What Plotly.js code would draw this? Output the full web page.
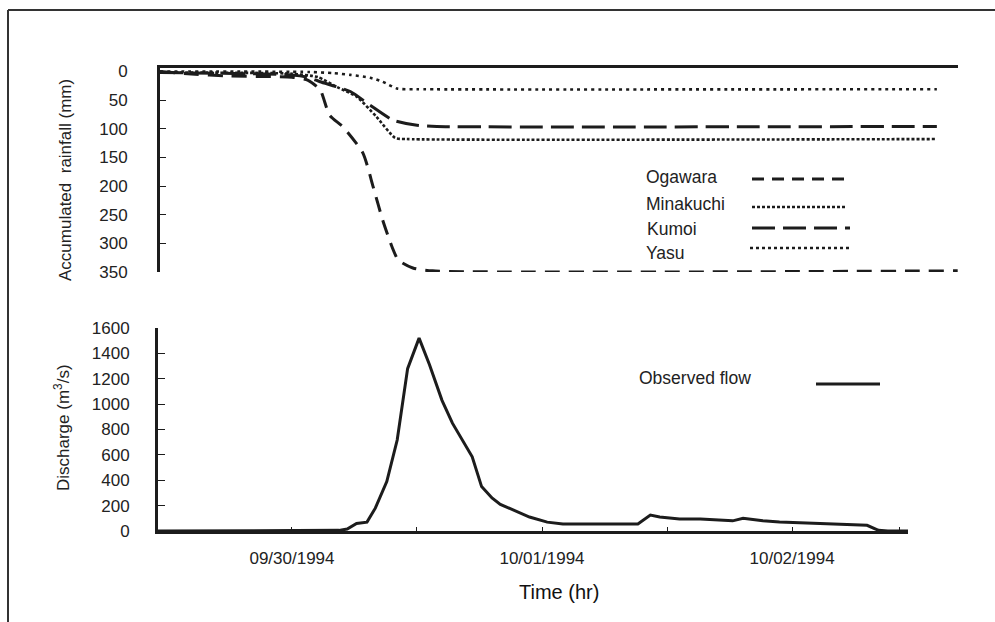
<!DOCTYPE html>
<html>
<head>
<meta charset="utf-8">
<script src="https://cdn.plot.ly/plotly-3.0.1.min.js"></script>
<style>html,body{margin:0;padding:0;background:#fff;}#chart{width:995px;height:622px;}</style>
</head>
<body>
<div id="chart"></div>
<script>
// Time in hours relative to 09/30/1994 00:00
var flowHours = [-12.86, 3.0, 4.5, 5.3, 6.2, 7.2, 8.0, 9.1, 10.1, 11.1, 12.2, 13.2, 14.4, 15.4, 17.3, 18.2, 19.2, 20.0, 21.2, 22.8, 24.5, 26.0, 33.2, 34.4, 35.3, 37.2, 39.2, 40.4, 42.3, 43.3, 45.2, 46.8, 50.0, 51.6, 53.3, 55.2, 56.3, 57.2, 59.13];
var observedFlow = [0, 0, 5, 15, 60, 70, 180, 390, 717, 1280, 1520, 1310, 1030, 850, 585, 350, 260, 210, 165, 110, 70, 55, 55, 125, 110, 95, 95, 87, 80, 100, 80, 70, 60, 60, 50, 45, 5, 0, 0];

var ogawaraHours = [-12.67, -10, -6, 0, 1.5, 2.7, 3.6, 4.9, 6.8, 7.8, 8.7, 9.6, 10.2, 11.6, 13.5, 63.9];
var ogawara = [0, 4, 8, 10, 15, 32, 76, 97, 142, 202, 259, 306, 329, 343, 348, 348];

var minakuchiHours = [-12.67, 0, 2.5, 4.3, 6.2, 8.1, 9.9, 11.0, 61.9];
var minakuchi = [2, 4, 10, 27, 44, 79, 116, 118, 118];

var kumoiHours = [-12.67, 0, 1.5, 2.7, 5.6, 7.5, 9.7, 12.0, 13.9, 61.9];
var kumoi = [2, 6, 10, 18, 35, 59, 85, 94, 96, 96];

var yasuHours = [-12.67, 1.7, 4.0, 5.6, 7.5, 8.7, 10.1, 12.0, 61.9];
var yasu = [0, 1, 3, 6, 11, 18, 30, 31, 31];

var tickHours = [0, 12, 24, 36, 48, 58.3];
var tickLabels = ['09/30/1994', '', '10/01/1994', '', '10/02/1994', ''];
var rainTicks = [0, 50, 100, 150, 200, 250, 300, 350];
var flowTicks = [0, 200, 400, 600, 800, 1000, 1200, 1400, 1600];

var W = 995, H = 622;
function px(x) { return x / W; }
function py(y) { return 1 - y / H; }
var ink = '#1c1c1c';
var fontFam = 'Liberation Sans, Arial, sans-serif';

var traces = [
  {x: flowHours, y: observedFlow, xaxis: 'x', yaxis: 'y', mode: 'lines', name: 'Observed flow',
   line: {color: ink, width: 3}, cliponaxis: false},
  {x: ogawaraHours, y: ogawara, xaxis: 'x2', yaxis: 'y2', mode: 'lines', name: 'Ogawara',
   line: {color: ink, width: 3, dash: '15px,9px', shape: 'spline', smoothing: 0.6}, cliponaxis: false},
  {x: minakuchiHours, y: minakuchi, xaxis: 'x2', yaxis: 'y2', mode: 'lines', name: 'Minakuchi',
   line: {color: ink, width: 2.6, dash: '3px,2px', shape: 'spline', smoothing: 0.6}, cliponaxis: false},
  {x: kumoiHours, y: kumoi, xaxis: 'x2', yaxis: 'y2', mode: 'lines', name: 'Kumoi',
   line: {color: ink, width: 3, dash: '23px,8px', shape: 'spline', smoothing: 0.6}, cliponaxis: false},
  {x: yasuHours, y: yasu, xaxis: 'x2', yaxis: 'y2', mode: 'lines', name: 'Yasu',
   line: {color: ink, width: 2.6, dash: '3px,4px', shape: 'spline', smoothing: 0.6}, cliponaxis: false}
];

var axisCommon = {showgrid: false, zeroline: false, showline: true, linecolor: ink, linewidth: 3,
  tickcolor: ink, tickfont: {size: 17, family: fontFam, color: '#222'}};

var layout = {
  width: W, height: H,
  margin: {l: 0, r: 0, t: 0, b: 0},
  paper_bgcolor: '#fff', plot_bgcolor: 'rgba(0,0,0,0)',
  showlegend: false,
  xaxis: Object.assign({}, axisCommon, {
    domain: [px(158), px(908)], range: [-12.86, 59.13], anchor: 'y',
    tickmode: 'array', tickvals: tickHours, ticktext: tickLabels,
    ticks: 'inside', ticklen: 4, tickwidth: 1, ticklabelstandoff: 10
  }),
  yaxis: Object.assign({}, axisCommon, {
    domain: [py(531), py(328)], range: [0, 1600], anchor: 'x',
    tickmode: 'array', tickvals: flowTicks,
    ticks: 'inside', ticklen: 7, tickwidth: 1, ticklabelstandoff: 22
  }),
  xaxis2: Object.assign({}, axisCommon, {
    domain: [px(160), px(958)], range: [-12.67, 63.93], anchor: 'y2', side: 'top',
    showticklabels: false, ticks: ''
  }),
  yaxis2: Object.assign({}, axisCommon, {
    domain: [py(272), py(68)], range: [350, -6], anchor: 'x2',
    tickmode: 'array', tickvals: rainTicks,
    ticks: 'inside', ticklen: 6, tickwidth: 1, ticklabelstandoff: 26
  }),
  shapes: [
    {type: 'line', xref: 'paper', yref: 'paper', x0: px(8), y0: py(10), x1: 1.01, y1: py(10), line: {color: '#333', width: 2}},
    {type: 'line', xref: 'paper', yref: 'paper', x0: px(8), y0: py(10), x1: px(8), y1: -0.01, line: {color: '#333', width: 2}},
    {type: 'line', xref: 'paper', yref: 'paper', x0: px(752), y0: py(179), x1: px(846), y1: py(179), line: {color: ink, width: 3, dash: '12px,8px'}},
    {type: 'line', xref: 'paper', yref: 'paper', x0: px(752), y0: py(207), x1: px(847), y1: py(207), line: {color: ink, width: 2.6, dash: '3px,2px'}},
    {type: 'line', xref: 'paper', yref: 'paper', x0: px(752), y0: py(228), x1: px(850), y1: py(228), line: {color: ink, width: 3, dash: '23px,8px'}},
    {type: 'line', xref: 'paper', yref: 'paper', x0: px(750), y0: py(248), x1: px(849), y1: py(248), line: {color: ink, width: 2.6, dash: '3px,3px'}},
    {type: 'line', xref: 'paper', yref: 'paper', x0: px(816), y0: py(384), x1: px(880), y1: py(384), line: {color: ink, width: 3}}
  ],
  annotations: [
    {xref: 'paper', yref: 'paper', x: px(65), y: py(180), text: 'Accumulated  rainfall (mm)', textangle: -90, showarrow: false, font: {size: 17, family: fontFam, color: '#222'}, xanchor: 'center', yanchor: 'middle'},
    {xref: 'paper', yref: 'paper', x: px(62), y: py(428), text: 'Discharge (m<sup>3</sup>/s)', textangle: -90, showarrow: false, font: {size: 17, family: fontFam, color: '#222'}, xanchor: 'center', yanchor: 'middle'},
    {xref: 'paper', yref: 'paper', x: px(559), y: py(592), text: 'Time (hr)', showarrow: false, font: {size: 20, family: fontFam, color: '#111'}, xanchor: 'center', yanchor: 'middle'},
    {xref: 'paper', yref: 'paper', x: px(644), y: py(177), text: 'Ogawara', showarrow: false, font: {size: 17.5, family: fontFam, color: '#222'}, xanchor: 'left', yanchor: 'middle'},
    {xref: 'paper', yref: 'paper', x: px(644), y: py(204), text: 'Minakuchi', showarrow: false, font: {size: 17.5, family: fontFam, color: '#222'}, xanchor: 'left', yanchor: 'middle'},
    {xref: 'paper', yref: 'paper', x: px(645), y: py(229), text: 'Kumoi', showarrow: false, font: {size: 17.5, family: fontFam, color: '#222'}, xanchor: 'left', yanchor: 'middle'},
    {xref: 'paper', yref: 'paper', x: px(644), y: py(253), text: 'Yasu', showarrow: false, font: {size: 17.5, family: fontFam, color: '#222'}, xanchor: 'left', yanchor: 'middle'},
    {xref: 'paper', yref: 'paper', x: px(637), y: py(378), text: 'Observed flow', showarrow: false, font: {size: 17.5, family: fontFam, color: '#222'}, xanchor: 'left', yanchor: 'middle'}
  ]
};

Plotly.newPlot('chart', traces, layout, {displayModeBar: false, staticPlot: true});
</script>
</body>
</html>
